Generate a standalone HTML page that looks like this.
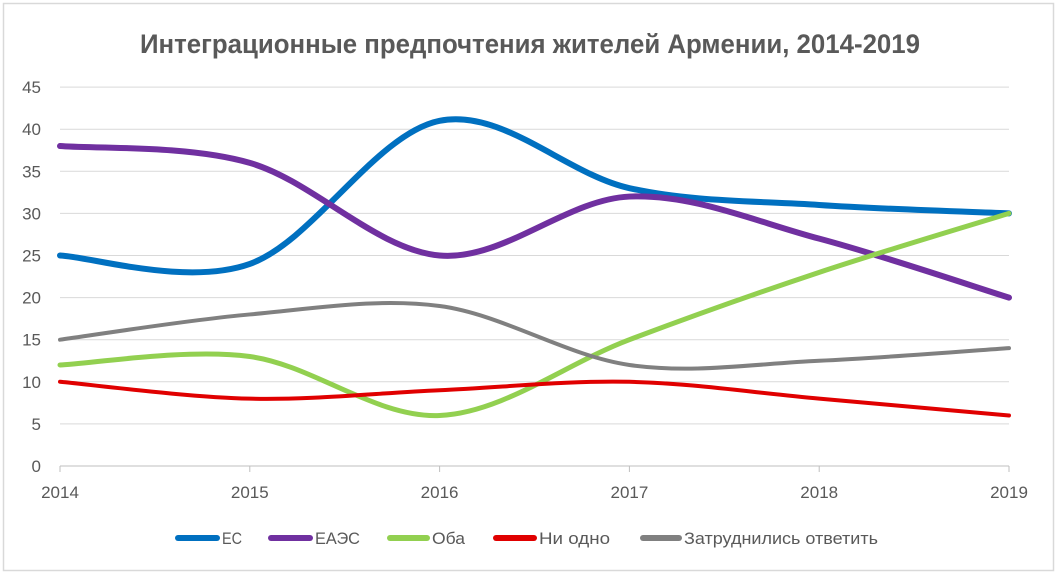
<!DOCTYPE html>
<html><head><meta charset="utf-8"><style>
body{margin:0;background:#fff;}
svg{display:block;font-family:"Liberation Sans",sans-serif;}
</style></head><body>
<svg id="s" width="1059" height="576" viewBox="0 0 1059 576">
<rect x="3.5" y="3.5" width="1050" height="567" fill="#fff" stroke="#d9d9d9" stroke-width="1.5"/>
<text x="530" y="53" text-anchor="middle" font-size="27" font-weight="bold" fill="#595959" textLength="780" lengthAdjust="spacingAndGlyphs">Интеграционные предпочтения жителей Армении, 2014-2019</text>
<g id="grid" stroke="#d9d9d9" stroke-width="1"></g>
<g id="ylab" font-size="17" fill="#595959" text-anchor="end"></g>
<g id="xlab" font-size="17" fill="#595959" text-anchor="middle"></g>
<g id="lines" fill="none" stroke-linecap="round"></g>
<g font-size="17" fill="#595959">
<line x1="178" y1="538" x2="217" y2="538" stroke="#0070C0" stroke-width="6" stroke-linecap="round"/>
<text x="222" y="544" textLength="20" lengthAdjust="spacingAndGlyphs">ЕС</text>
<line x1="271" y1="538" x2="310" y2="538" stroke="#7030A0" stroke-width="6" stroke-linecap="round"/>
<text x="315" y="544" textLength="45" lengthAdjust="spacingAndGlyphs">ЕАЭС</text>
<line x1="390" y1="538" x2="427" y2="538" stroke="#92D050" stroke-width="6" stroke-linecap="round"/>
<text x="432" y="544" textLength="33" lengthAdjust="spacingAndGlyphs">Оба</text>
<line x1="496" y1="538" x2="534" y2="538" stroke="#E00000" stroke-width="6" stroke-linecap="round"/>
<text x="539" y="544" textLength="71" lengthAdjust="spacingAndGlyphs">Ни одно</text>
<line x1="643" y1="538" x2="679" y2="538" stroke="#808080" stroke-width="6" stroke-linecap="round"/>
<text x="684" y="544" textLength="194" lengthAdjust="spacingAndGlyphs">Затруднились ответить</text>
</g>
</svg>
<script>
var NS="http://www.w3.org/2000/svg";
function el(p,t,a,txt){var e=document.createElementNS(NS,t);for(var k in a)e.setAttribute(k,a[k]);if(txt!=null)e.textContent=txt;document.getElementById(p).appendChild(e);}
var x0=60,dx=189.8,y0=466,ky=8.42;
for(var v=5;v<=45;v+=5){var y=y0-v*ky;el("grid","line",{x1:x0,x2:1009,y1:y,y2:y});}
for(var v=0;v<=45;v+=5){el("ylab","text",{x:41,y:y0-v*ky+6},String(v));}
el("grid","line",{x1:x0,x2:1009,y1:y0,y2:y0,stroke:"#bfbfbf"});
for(var i=0;i<6;i++){var x=x0+i*dx;el("grid","line",{x1:x,x2:x,y1:y0,y2:y0+6,stroke:"#bfbfbf"});el("xlab","text",{x:x,y:498},String(2014+i));}
var S=[["#0070C0",6,[25,24,41,33,31,30]],["#7030A0",6,[38,36,25,32,27,20]],["#92D050",5,[12,13,6,15,23,30]],["#808080",4,[15,18,19,12,12.5,14]],["#E00000",4,[10,8,9,10,8,6]]];
S.forEach(function(s){var P=s[2].map(function(v,i){return [x0+i*dx,y0-v*ky];});var n=P.length;var d="M"+P[0][0]+","+P[0][1];
for(var i=0;i<n-1;i++){var a=P[Math.max(i-1,0)],b=P[i],c=P[i+1],e=P[Math.min(i+2,n-1)];
var c1=[b[0]+(c[0]-a[0])/6,b[1]+(c[1]-a[1])/6],c2=[c[0]-(e[0]-b[0])/6,c[1]-(e[1]-b[1])/6];
d+=" C"+c1+" "+c2+" "+c;}
el("lines","path",{d:d,stroke:s[0],"stroke-width":s[1]});});
</script>
</body></html>
